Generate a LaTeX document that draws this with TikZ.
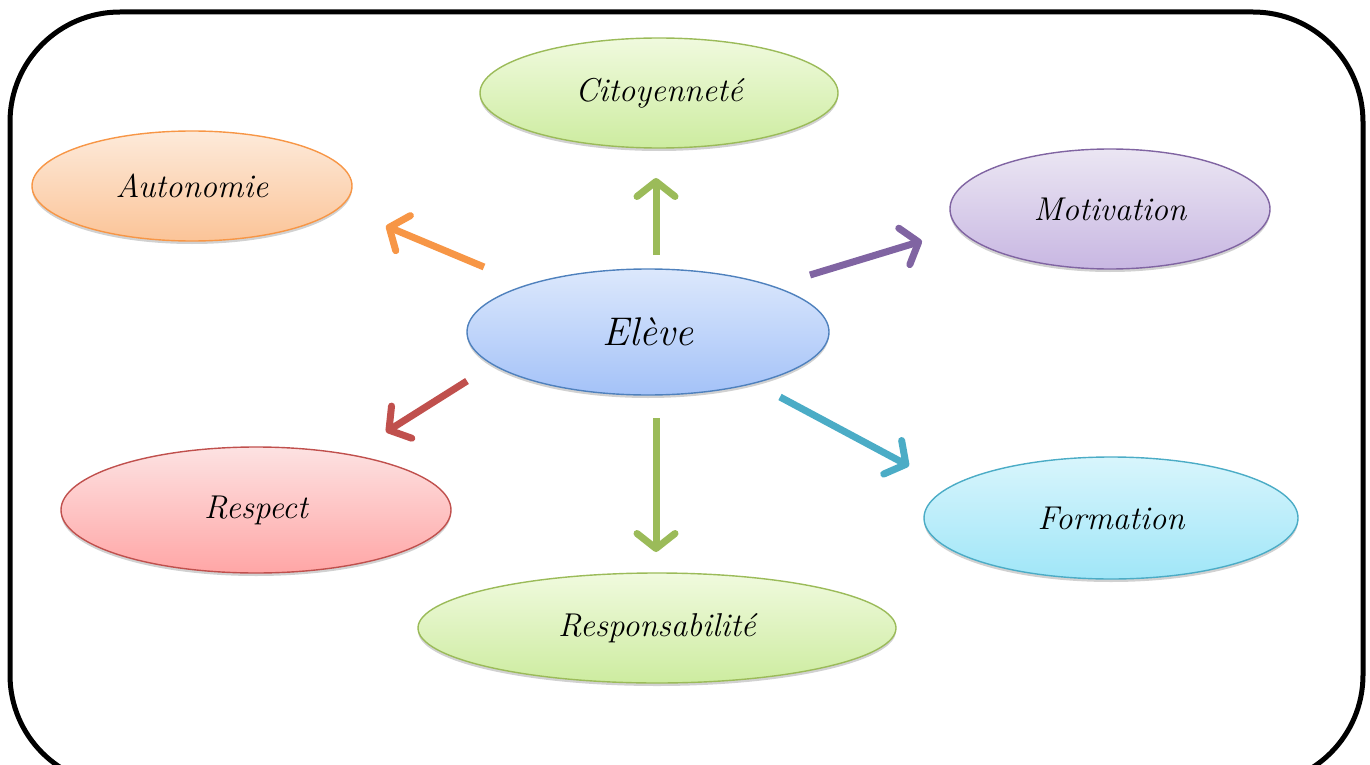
\documentclass[tikz,border=0pt]{standalone}
\usetikzlibrary{arrows.meta,shadows,shapes.geometric}
\definecolor{grnB}{HTML}{9BBB59}
\definecolor{orgB}{HTML}{F79646}
\definecolor{purB}{HTML}{8064A2}
\definecolor{bluB}{HTML}{4F81BD}
\definecolor{redB}{HTML}{C0504D}
\definecolor{cyaB}{HTML}{4BACC6}
\tikzset{
  bubble/.style={ellipse, draw=#1B, line width=1.4pt, inner sep=0pt,
    drop shadow={shadow xshift=0pt, shadow yshift=-3pt, opacity=0.18, fill=black},
    font=\itshape\fontsize{33}{35}\selectfont},
  link/.style={draw=#1B, line width=7pt, line cap=butt,
    -{Straight Barb[length=15pt,width=38pt,line width=7pt,round]}},
}
\begin{document}
\begin{tikzpicture}[x=1pt,y=-1pt]
\useasboundingbox (0,0) rectangle (1370,765);
\draw[line width=5pt, rounded corners=110pt] (10,12) rectangle (1363,785);
\node[bubble=grn, minimum width=358pt, minimum height=110pt, top color={rgb,255:red,240;green,250;blue,222}, bottom color={rgb,255:red,205;green,236;blue,160}] (cit) at (659,93) {Citoyennet\'e};
\node[bubble=org, minimum width=320pt, minimum height=110pt, top color={rgb,255:red,253;green,234;blue,218}, bottom color={rgb,255:red,251;green,196;blue,152}] (aut) at (192,186) {Autonomie};
\node[bubble=pur, minimum width=320pt, minimum height=120pt, top color={rgb,255:red,235;green,230;blue,243}, bottom color={rgb,255:red,200;green,183;blue,226}] (mot) at (1110,209) {Motivation};
\node[bubble=blu, minimum width=362pt, minimum height=126pt, top color={rgb,255:red,220;green,232;blue,252}, bottom color={rgb,255:red,164;green,194;blue,248}, font=\itshape\fontsize{40}{42}\selectfont] (ele) at (648,332) {El\`eve};
\node[bubble=red, minimum width=390pt, minimum height=126pt, top color={rgb,255:red,253;green,226;blue,226}, bottom color={rgb,255:red,255;green,166;blue,166}] (res) at (256,510) {Respect};
\node[bubble=cya, minimum width=374pt, minimum height=122pt, top color={rgb,255:red,216;green,245;blue,252}, bottom color={rgb,255:red,160;green,230;blue,248}] (for) at (1111,518) {Formation};
\node[bubble=grn, minimum width=478pt, minimum height=110pt, top color={rgb,255:red,240;green,250;blue,222}, bottom color={rgb,255:red,205;green,236;blue,160}] (rsp) at (657,628) {Responsabilit\'e};
\coordinate (aS) at (484,267); \coordinate (aE) at (386,226);
\coordinate (cS) at (656,255); \coordinate (cE) at (656,178);
\coordinate (mS) at (810,275); \coordinate (mE) at (922,241);
\coordinate (rS) at (467,381); \coordinate (rE) at (386,432);
\coordinate (pS) at (656,418); \coordinate (pE) at (656,552);
\coordinate (fS) at (780,397); \coordinate (fE) at (909,466);
\draw[link=org] (aS) -- (aE);
\draw[link=grn] (cS) -- (cE);
\draw[link=pur] (mS) -- (mE);
\draw[link=red] (rS) -- (rE);
\draw[link=grn] (pS) -- (pE);
\draw[link=cya] (fS) -- (fE);
\end{tikzpicture}
\end{document}
